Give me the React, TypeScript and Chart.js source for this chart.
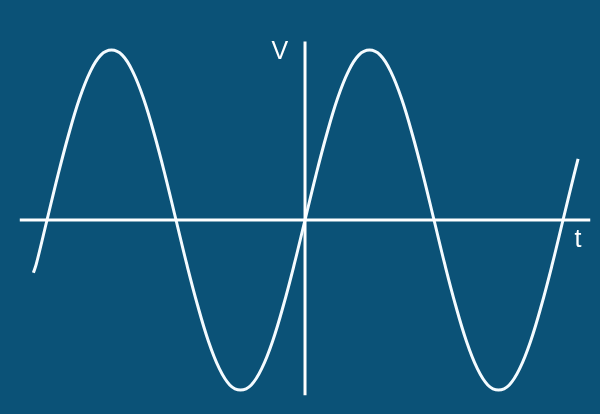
import React, { useEffect, useRef } from "react";
import { Chart, registerables } from "chart.js";

Chart.register(...registerables);

// phase angle t (degrees) and voltage V (normalised)
const tValues = [
  -379, -375, -360, -345, -330, -315, -300, -285, -270, -255, -240, -225, -210, -195,
  -180, -165, -150, -135, -120, -105, -90, -75, -60, -45, -30, -15,
  0, 15, 30, 45, 60, 75, 90, 105, 120, 135, 150, 165,
  180, 195, 210, 225, 240, 255, 270, 285, 300, 315, 330, 345, 360, 375, 381,
];
const vValues = [
  -0.31, -0.26, 0.0, 0.26, 0.5, 0.71, 0.87, 0.97, 1.0, 0.97, 0.87, 0.71, 0.5, 0.26,
  0.0, -0.26, -0.5, -0.71, -0.87, -0.97, -1.0, -0.97, -0.87, -0.71, -0.5, -0.26,
  0.0, 0.26, 0.5, 0.71, 0.87, 0.97, 1.0, 0.97, 0.87, 0.71, 0.5, 0.26,
  0.0, -0.26, -0.5, -0.71, -0.87, -0.97, -1.0, -0.97, -0.87, -0.71, -0.5, -0.26, 0.0, 0.26, 0.36,
];
// axis extents
const tAxis = [-398, 398];
const vAxis = [-1.03, 1.05];
const axisLabels = ["V", "t"];

const BG = "#0b5277";

const labelPlugin = {
  id: "axisLabels",
  afterDatasetsDraw(chart: any) {
    const { ctx, scales } = chart;
    const x = scales.x;
    const y = scales.y;
    ctx.save();
    ctx.fillStyle = "#ffffff";
    ctx.font = '25px "Liberation Sans", Arial, sans-serif';
    ctx.textAlign = "center";
    ctx.textBaseline = "middle";
    ctx.fillText(axisLabels[0], x.getPixelForValue(-35), y.getPixelForValue(0.99));
    ctx.fillText(axisLabels[1], x.getPixelForValue(381), y.getPixelForValue(-0.12));
    ctx.restore();
  },
};

export default function App() {
  const ref = useRef<HTMLCanvasElement>(null);
  useEffect(() => {
    document.body.style.margin = "0";
    const curve = tValues.map((t, i) => ({ x: t, y: vValues[i] }));
    const chart = new Chart(ref.current!, {
      type: "scatter",
      data: {
        datasets: [
          {
            data: [
              { x: tAxis[0], y: 0 },
              { x: tAxis[1], y: 0 },
            ],
            showLine: true,
            borderColor: "#ffffff",
            borderWidth: 3,
            pointRadius: 0,
          },
          {
            data: [
              { x: 0, y: vAxis[0] },
              { x: 0, y: vAxis[1] },
            ],
            showLine: true,
            borderColor: "#ffffff",
            borderWidth: 3,
            pointRadius: 0,
          },
          {
            data: curve,
            showLine: true,
            borderColor: "#f4fbff",
            borderWidth: 3,
            pointRadius: 0,
            tension: 0.4,
            cubicInterpolationMode: "default",
          },
        ],
      },
      options: {
        animation: false,
        responsive: false,
        maintainAspectRatio: false,
        layout: { padding: 0 },
        plugins: { legend: { display: false }, tooltip: { enabled: false } },
        scales: {
          x: { type: "linear", display: false, min: -425.6, max: 411.6 },
          y: { type: "linear", display: false, min: -1.141, max: 1.294 },
        },
      },
      plugins: [labelPlugin],
    } as any);
    return () => chart.destroy();
  }, []);
  return (
    <div style={{ width: 600, height: 414, background: BG }}>
      <canvas ref={ref} width={600} height={414} style={{ display: "block" }} />
    </div>
  );
}
